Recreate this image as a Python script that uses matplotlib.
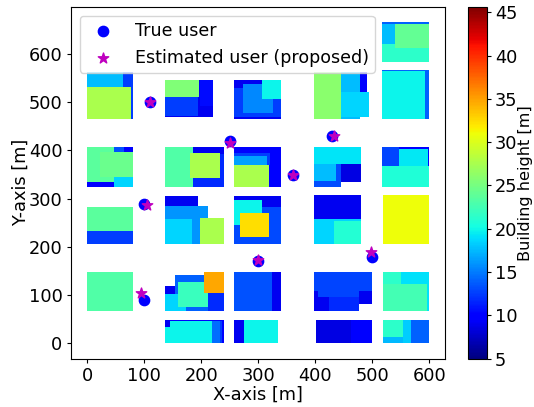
import matplotlib
matplotlib.use("Agg")
import matplotlib.pyplot as plt
from matplotlib.patches import Rectangle
from matplotlib.colors import Normalize
from matplotlib.cm import ScalarMappable

# Each building: x0, x1, y0, y1, height (painted in order)
block_a = [(0,80,465,562,12.5),(0,63,465,562,17.6),(0,77,465,532,27.6)]
block_b = [(137,220,470,546,9.0),(197,220,492,546,10.5),(137,194,472,512,12.5),(137,196,512,546,25.5)]
block_c = [(257,340,465,546,9.0),(257,340,470,530,12.5),(274,326,477,538,15.6),(306,340,507,546,19.9)]
block_d = [(398,445,465,562,26.0),(445,478,465,562,17.6),(478,490,522,562,9.5),(445,495,470,522,18.6)]
block_e = [(517,600,584,667,14.0),(517,600,584,620,21.4),(517,539,620,663,17.6),(539,600,612,663,24.1)]
block_f = [(517,600,465,567,14.0),(517,592,465,564,19.9)]

block_g = [(0,80,325,408,9.5),(47,65,396,407,13.4),(0,47,335,407,23.6),(46,80,325,346,18.6),(22,80,346,396,24.4)]
block_h = [(137,240,325,408,11.7),(186,240,393,408,9.0),(137,186,325,407,23.1),(180,232,342,394,27.6)]
block_i = [(257,340,325,408,9.5),(257,321,369,395,12.5),(257,315,369,389,16.5),(257,319,325,369,27.6)]
block_j = [(398,480,371,407,19.2),(398,445,325,371,13.2),(398,437,337,371,17.6),(445,480,335,371,8.5)]
block_k = [(517,600,325,407,9.5),(517,546,368,407,12.8),(546,598,368,403,19.4),(517,600,325,368,20.8)]

block_l = [(0,80,232,283,23.6),(0,80,206,232,12.5)]
block_m = [(137,194,285,305,9.0),(137,212,206,285,16.0),(137,183,206,258,18.6),(198,240,206,259,27.6)]
block_n = [(257,340,206,305,13.0),(257,340,283,305,9.0),(257,306,245,297,19.9),(267,319,220,271,32.4)]
block_o = [(398,480,257,308,9.0),(398,480,206,257,18.6),(433,480,206,254,21.0)]
block_p = [(518,600,206,308,31.0)]

block_q = [(0,80,66,148,23.1)]
block_r = [(137,154,102,118,9.0),(154,240,66,142,14.0),(137,174,66,102,18.6),(211,240,66,104,11.7),
           (159,211,76,127,22.0),(205,240,105,148,34.8)]
block_s = [(257,340,66,148,9.0),(257,324,66,148,13.4)]
block_t = [(398,500,109,148,12.8),(398,424,66,109,9.0),(424,476,66,109,11.7),(476,500,82,109,9.0),(404,476,97,109,12.8)]
block_u = [(518,600,66,148,19.0),(518,550,123,148,21.4),(518,596,66,123,22.6)]

block_v = [(137,240,0,48,9.5),(137,237,0,47,12.5),(137,145,34,48,9.0),(145,219,0,46,19.9),(137,145,0,34,19.9),(219,233,0,46,14.5)]
block_w = [(257,275,0,48,9.0),(275,334,0,48,19.8)]
block_x = [(401,463,0,48,8.6),(463,500,0,48,9.6)]
block_y = [(568,600,0,48,14.0),(518,568,0,48,17.4),(554,568,0,48,18.2),(518,554,12,48,21.4)]

blocks = [block_a, block_b, block_c, block_d, block_e, block_f,
          block_g, block_h, block_i, block_j, block_k,
          block_l, block_m, block_n, block_o, block_p,
          block_q, block_r, block_s, block_t, block_u,
          block_v, block_w, block_x, block_y]

true_x = [110, 250, 430, 360, 100, 100, 300, 500]
true_y = [500, 420, 430, 350, 290, 90, 170, 180]
est_x = [110, 250, 432, 360, 104, 94, 300, 497]
est_y = [500, 415, 430, 350, 287, 105, 172, 190]

x_ticks = [0, 100, 200, 300, 400, 500, 600]
y_ticks = [0, 100, 200, 300, 400, 500, 600]
cbar_ticks = [5, 10, 15, 20, 25, 30, 35, 40, 45]

fig = plt.figure(figsize=(5.34, 4.07), dpi=100)
ax = fig.add_axes([71/534, 1-358.7/407, (445-71)/534, (358.7-7)/407])
norm = Normalize(5, 45.6)
cmap = plt.get_cmap("jet")

for block in blocks:
    for x0, x1, y0, y1, h in block:
        ax.add_patch(Rectangle((x0, y0), x1-x0, y1-y0, facecolor=cmap(norm(h)),
                               edgecolor="none", zorder=1))

ax.scatter(true_x, true_y, s=55, c="b", marker="o", label="True user", zorder=3)
ax.scatter(est_x, est_y, s=62, c="m", marker="*", label="Estimated user (proposed)", zorder=4)

ax.set_xlim(-28.6, 627.5)
ax.set_ylim(-32, 697.7)
ax.set_xticks(x_ticks)
ax.set_yticks(y_ticks)
ax.tick_params(labelsize=12.8, length=3.2, pad=3)
ax.set_xlabel("X-axis [m]", fontsize=12.8, labelpad=0.5)
ax.set_ylabel("Y-axis [m]", fontsize=12.8, labelpad=-1)
ax.legend(loc="upper left", fontsize=12.6, bbox_to_anchor=(0.0, 1.0),
          borderaxespad=0.5, handletextpad=0.78, labelspacing=0.5, borderpad=0.35)

cax = fig.add_axes([468/534, 1-358.7/407, 18.5/534, (358.7-7)/407])
cb = fig.colorbar(ScalarMappable(norm=norm, cmap=cmap), cax=cax)
cb.set_ticks(cbar_ticks)
cb.ax.tick_params(labelsize=12.8, length=3.2, pad=3)
cb.set_label("Building height [m]", fontsize=11.6, labelpad=0.5)

fig.savefig("out.png", dpi=100)
